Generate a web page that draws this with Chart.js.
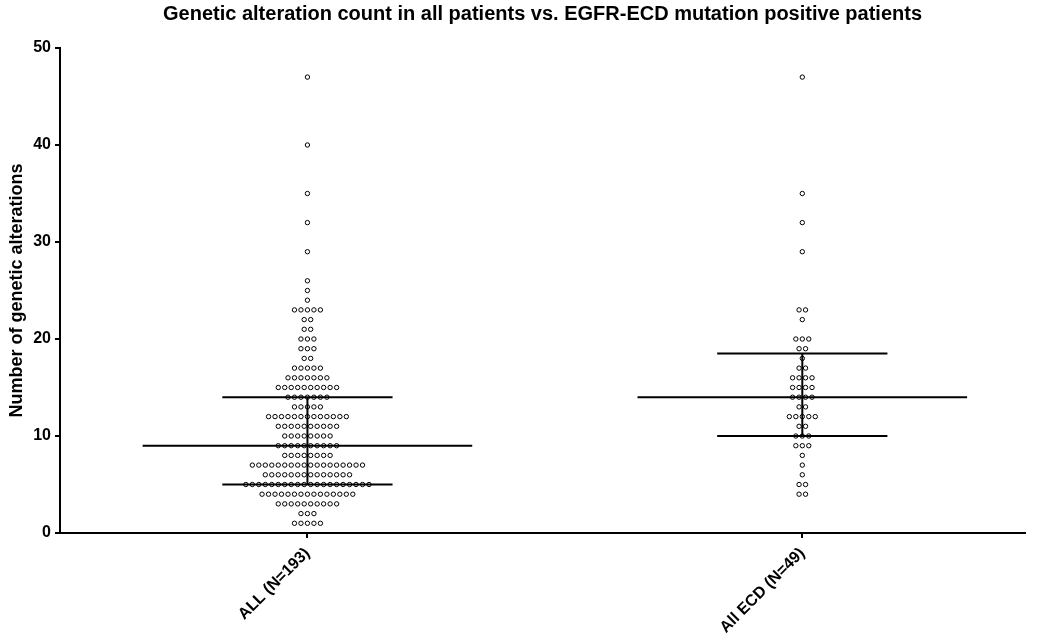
<!DOCTYPE html>
<html>
<head>
<meta charset="utf-8">
<script src="https://cdn.jsdelivr.net/npm/chart.js@4.4.1/dist/chart.umd.min.js"></script>
<style>
  html, body { margin: 0; padding: 0; background: #fff; }
  #wrap { width: 1040px; height: 642px; }
</style>
</head>
<body>
<div id="wrap"><canvas id="chart" width="1040" height="642"></canvas></div>
<script>
// Groups shown along the x axis
const categories = ['ALL (N=193)', 'All ECD (N=49)'];

// All patients: number of alterations and how many patients have it
const allValues = [1, 2, 3, 4, 5, 6, 7, 8, 9, 10, 11, 12, 13, 14, 15, 16, 17, 18, 19, 20, 21, 22, 23, 24, 25, 26, 29, 32, 35, 40, 47];
const allCounts = [5, 3, 10, 15, 20, 14, 18, 8, 10, 8, 10, 13, 5, 7, 10, 7, 5, 2, 3, 3, 2, 2, 5, 1, 1, 1, 1, 1, 1, 1, 1];

// EGFR-ECD mutation positive patients
const ecdValues = [4, 5, 6, 7, 8, 9, 10, 11, 12, 13, 14, 15, 16, 17, 18, 19, 20, 22, 23, 29, 32, 35, 47];
const ecdCounts = [2, 2, 1, 1, 1, 3, 3, 2, 5, 2, 4, 4, 4, 2, 1, 2, 3, 1, 2, 1, 1, 1, 1];

// Y axis tick labels
const yTicks = [0, 10, 20, 30, 40, 50];

const FONT = '"Liberation Sans", Arial, Helvetica, sans-serif';
const DOT_STEP = 0.0131;      // horizontal spacing between dots sharing a value
const MEDIAN_HALF = 0.333;    // half length of the median bar
const QUART_HALF = 0.172;     // half length of the quartile bars

// Lay out dots side by side for every value (column scatter)
function dotPoints(values, counts, center) {
  const pts = [];
  values.forEach((v, k) => {
    const n = counts[k];
    for (let i = 0; i < n; i++) {
      pts.push({ x: center + (i - (n - 1) / 2) * DOT_STEP, y: v });
    }
  });
  return pts;
}

// Percentile using the (n+1)p rule
function expand(values, counts) {
  const out = [];
  values.forEach((v, k) => { for (let i = 0; i < counts[k]; i++) out.push(v); });
  return out.sort((a, b) => a - b);
}
function percentile(sorted, p) {
  const pos = (sorted.length + 1) * p;
  const lo = Math.floor(pos), hi = Math.ceil(pos);
  const a = sorted[Math.max(lo, 1) - 1], b = sorted[Math.min(hi, sorted.length) - 1];
  return a + (b - a) * (pos - lo);
}

function summaryLines(values, counts, center) {
  const s = expand(values, counts);
  const q1 = percentile(s, 0.25), med = percentile(s, 0.5), q3 = percentile(s, 0.75);
  const line = (data) => ({
    type: 'scatter', data, showLine: true, borderColor: '#000', borderWidth: 2,
    pointRadius: 0, fill: false, order: 1
  });
  return [
    line([{ x: center - MEDIAN_HALF, y: med }, { x: center + MEDIAN_HALF, y: med }]),
    line([{ x: center - QUART_HALF, y: q1 }, { x: center + QUART_HALF, y: q1 }]),
    line([{ x: center - QUART_HALF, y: q3 }, { x: center + QUART_HALF, y: q3 }]),
    line([{ x: center, y: q1 }, { x: center, y: q3 }])
  ];
}

const dotStyle = {
  type: 'scatter', pointRadius: 2.2, pointBorderWidth: 1,
  pointBackgroundColor: '#fff', pointBorderColor: '#000', order: 2
};

new Chart(document.getElementById('chart'), {
  data: {
    datasets: [
      Object.assign({ label: categories[0], data: dotPoints(allValues, allCounts, 0) }, dotStyle),
      Object.assign({ label: categories[1], data: dotPoints(ecdValues, ecdCounts, 1) }, dotStyle),
      ...summaryLines(allValues, allCounts, 0),
      ...summaryLines(ecdValues, ecdCounts, 1)
    ]
  },
  options: {
    responsive: false,
    animation: false,
    layout: { padding: { left: 0, right: 15, top: 0, bottom: 0 } },
    plugins: {
      legend: { display: false },
      tooltip: { enabled: false },
      title: {
        display: true,
        fullSize: false,
        text: 'Genetic alteration count in all patients vs. EGFR-ECD mutation positive patients',
        color: '#000',
        font: { family: FONT, size: 20, weight: 'bold' },
        padding: { top: 2, bottom: 22 }
      }
    },
    scales: {
      x: {
        type: 'linear',
        min: -0.5,
        max: 1.45,
        afterBuildTicks: (scale) => { scale.ticks = categories.map((_, i) => ({ value: i })); },
        afterFit: (scale) => { scale.height = 109; },
        grid: { display: true, drawOnChartArea: false, drawTicks: true, tickLength: 5, color: '#000', lineWidth: 2 },
        border: { display: true, color: '#000', width: 2 },
        ticks: {
          autoSkip: false, maxRotation: 45, minRotation: 45, padding: 6,
          color: '#000', font: { family: FONT, size: 16, weight: 'bold' },
          callback: (v) => categories[v]
        }
      },
      y: {
        min: 0,
        max: 50,
        afterBuildTicks: (scale) => { scale.ticks = yTicks.map(v => ({ value: v })); },
        afterFit: (scale) => { scale.width = 60; },
        grid: { display: true, drawOnChartArea: false, drawTicks: true, tickLength: 5, color: '#000', lineWidth: 2 },
        border: { display: true, color: '#000', width: 2 },
        ticks: { padding: 4, color: '#000', font: { family: FONT, size: 16, weight: 'bold' } },
        title: {
          display: true,
          text: 'Number of genetic alterations',
          color: '#000',
          font: { family: FONT, size: 18, weight: 'bold' },
          padding: { top: 6, bottom: 0 }
        }
      }
    }
  }
});
</script>
</body>
</html>
